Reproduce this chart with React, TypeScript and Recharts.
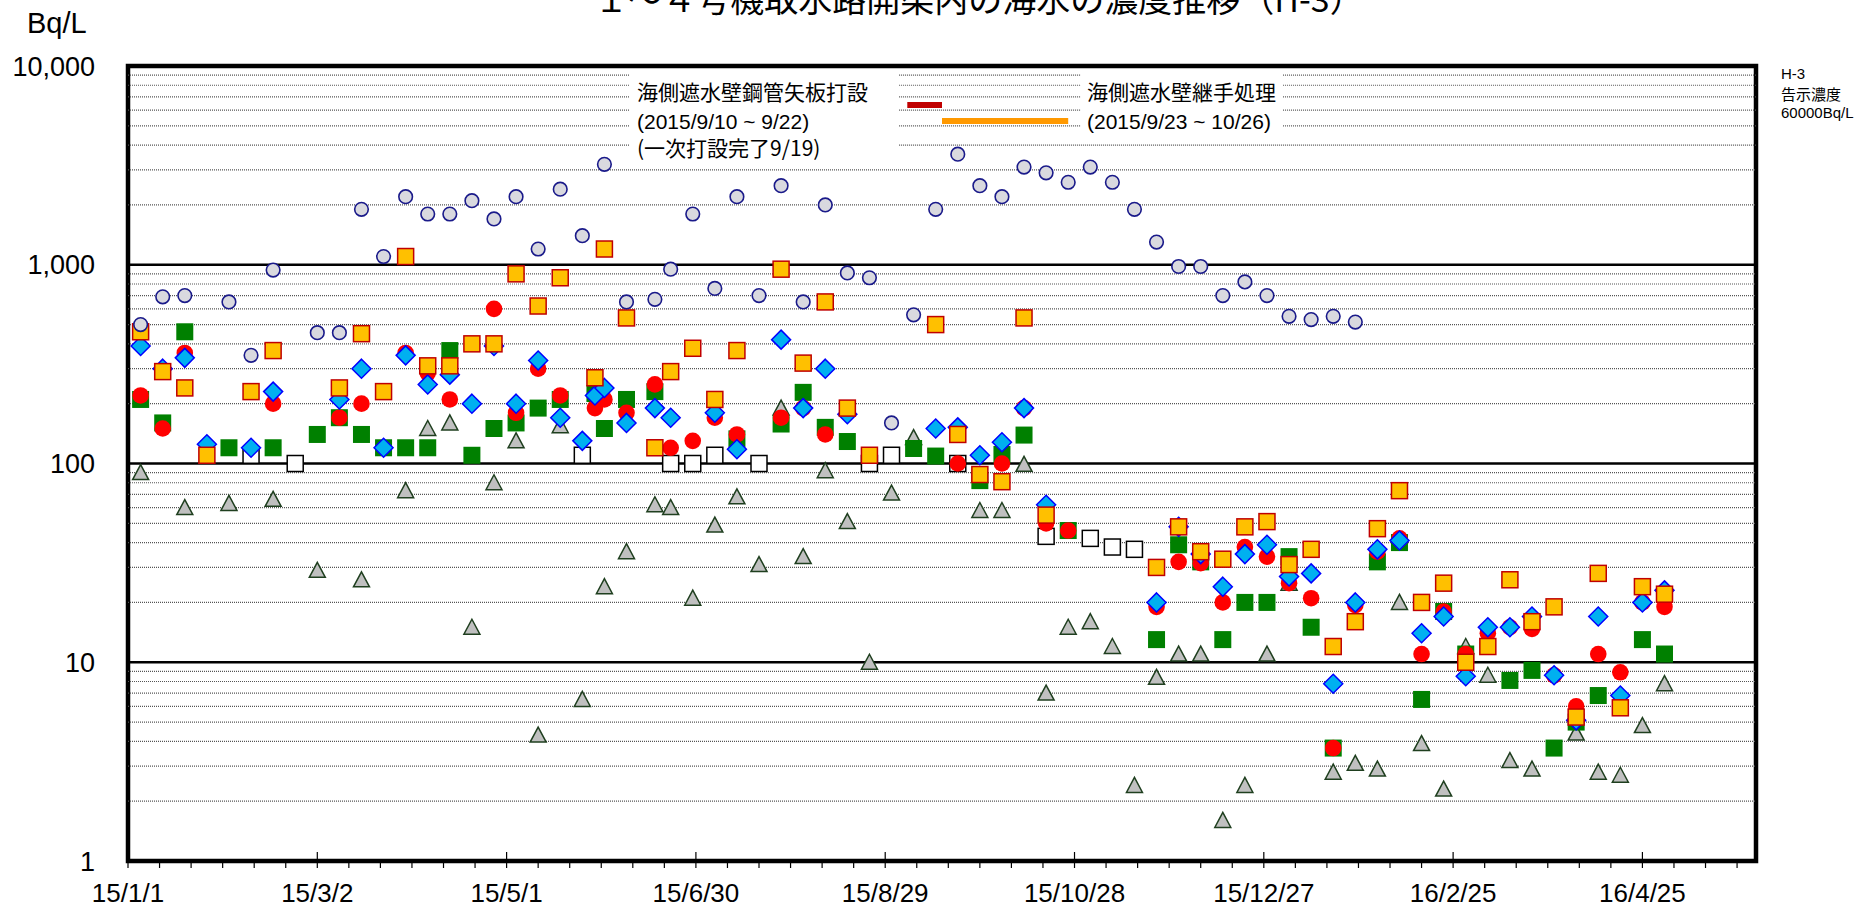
import React from 'react';
import {
  ScatterChart,
  Scatter,
  XAxis,
  YAxis,
  ReferenceLine,
  ReferenceArea,
  Customized,
} from 'recharts';

type Pt = [string, number];

const TITLE = '１～４号機取水路開渠内の海水の濃度推移（H-3）';
const X_LABELS = ['15/1/1', '15/3/2', '15/5/1', '15/6/30', '15/8/29', '15/10/28', '15/12/27', '16/2/25', '16/4/25'];
const X_START = '15/1/1';
const X_END = '16/5/31';
const Y_TICKS = [1, 10, 100, 1000, 10000];
const Y_MINOR_STEPS = [2, 3, 4, 5, 6, 7, 8, 9];

// gray circle with navy outline
const circleGray: Pt[] = [
  ['15/1/5', 500], ['15/1/12', 690], ['15/1/19', 700], ['15/2/2', 650], ['15/2/9', 350], ['15/2/16', 940],
  ['15/3/2', 455], ['15/3/9', 455], ['15/3/16', 1900], ['15/3/23', 1100], ['15/3/30', 2200], ['15/4/6', 1800],
  ['15/4/13', 1800], ['15/4/20', 2100], ['15/4/27', 1700], ['15/5/4', 2200], ['15/5/11', 1200], ['15/5/18', 2400],
  ['15/5/25', 1400], ['15/6/1', 3200], ['15/6/8', 650], ['15/6/17', 670], ['15/6/22', 950], ['15/6/29', 1800],
  ['15/7/6', 760], ['15/7/13', 2200], ['15/7/20', 700], ['15/7/27', 2500], ['15/8/3', 650], ['15/8/10', 2000],
  ['15/8/17', 910], ['15/8/24', 860], ['15/8/31', 160], ['15/9/7', 560], ['15/9/14', 1900], ['15/9/21', 3600],
  ['15/9/28', 2500], ['15/10/5', 2200], ['15/10/12', 3100], ['15/10/19', 2900], ['15/10/26', 2600], ['15/11/2', 3100],
  ['15/11/9', 2600], ['15/11/16', 1900], ['15/11/23', 1300], ['15/11/30', 980], ['15/12/7', 980], ['15/12/14', 700],
  ['15/12/21', 820], ['15/12/28', 700], ['16/1/4', 550], ['16/1/11', 530], ['16/1/18', 550], ['16/1/25', 515],
];

// red circle
const circleRed: Pt[] = [
  ['15/1/5', 220], ['15/1/12', 150], ['15/1/19', 360], ['15/2/16', 200], ['15/3/9', 170], ['15/3/16', 200],
  ['15/3/30', 360], ['15/4/6', 285], ['15/4/13', 210], ['15/4/27', 600], ['15/5/4', 180], ['15/5/11', 300],
  ['15/5/18', 220], ['15/5/29', 190], ['15/6/1', 210], ['15/6/8', 180], ['15/6/17', 250], ['15/6/22', 120],
  ['15/6/29', 130], ['15/7/6', 170], ['15/7/13', 140], ['15/7/27', 170], ['15/8/3', 190], ['15/8/10', 140],
  ['15/9/21', 100], ['15/10/5', 100], ['15/10/12', 190], ['15/10/19', 50], ['15/10/26', 46], ['15/11/23', 19],
  ['15/11/30', 32], ['15/12/7', 31.5], ['15/12/14', 20], ['15/12/21', 38], ['15/12/28', 34], ['16/1/4', 25],
  ['16/1/11', 21], ['16/1/18', 3.7], ['16/1/25', 19.4], ['16/2/1', 36], ['16/2/8', 42], ['16/2/15', 11],
  ['16/2/22', 18], ['16/2/29', 11], ['16/3/7', 14], ['16/3/14', 15], ['16/3/21', 14.7], ['16/3/28', 8.6],
  ['16/4/4', 6], ['16/4/11', 11], ['16/4/18', 8.9], ['16/4/25', 20], ['16/5/2', 19],
];

// blue diamond
const diamondBlue: Pt[] = [
  ['15/1/5', 390], ['15/1/12', 300], ['15/1/19', 340], ['15/1/26', 125], ['15/2/9', 120], ['15/2/16', 230],
  ['15/3/9', 210], ['15/3/16', 300], ['15/3/23', 120], ['15/3/30', 350], ['15/4/6', 250], ['15/4/13', 280],
  ['15/4/20', 200], ['15/4/27', 390], ['15/5/4', 200], ['15/5/11', 330], ['15/5/18', 170], ['15/5/25', 130],
  ['15/5/29', 220], ['15/6/1', 240], ['15/6/8', 160], ['15/6/17', 190], ['15/6/22', 170], ['15/7/6', 180],
  ['15/7/13', 118], ['15/7/27', 420], ['15/8/3', 190], ['15/8/10', 300], ['15/8/17', 177], ['15/9/14', 150],
  ['15/9/21', 152], ['15/9/28', 110], ['15/10/5', 128], ['15/10/12', 190], ['15/10/19', 62], ['15/11/23', 20],
  ['15/11/30', 48], ['15/12/7', 35], ['15/12/14', 24], ['15/12/21', 35], ['15/12/28', 39], ['16/1/4', 27],
  ['16/1/11', 28], ['16/1/18', 7.8], ['16/1/25', 20], ['16/2/1', 37], ['16/2/8', 41], ['16/2/15', 14],
  ['16/2/22', 17], ['16/2/29', 8.5], ['16/3/7', 15], ['16/3/14', 15], ['16/3/21', 17], ['16/3/28', 8.6],
  ['16/4/4', 5.1], ['16/4/11', 17], ['16/4/18', 6.8], ['16/4/25', 20], ['16/5/2', 23],
];

// orange square, red outline
const squareOrange: Pt[] = [
  ['15/1/5', 460], ['15/1/12', 290], ['15/1/19', 240], ['15/1/26', 110], ['15/2/9', 230], ['15/2/16', 370],
  ['15/3/9', 240], ['15/3/16', 450], ['15/3/23', 230], ['15/3/30', 1100], ['15/4/6', 310], ['15/4/13', 310],
  ['15/4/20', 400], ['15/4/27', 400], ['15/5/4', 900], ['15/5/11', 620], ['15/5/18', 860], ['15/5/29', 270],
  ['15/6/1', 1200], ['15/6/8', 540], ['15/6/17', 120], ['15/6/22', 290], ['15/6/29', 380], ['15/7/6', 210],
  ['15/7/13', 370], ['15/7/27', 950], ['15/8/3', 320], ['15/8/10', 650], ['15/8/17', 190], ['15/8/24', 110],
  ['15/9/14', 500], ['15/9/21', 140], ['15/9/28', 88], ['15/10/5', 81], ['15/10/12', 540], ['15/10/19', 55],
  ['15/11/23', 30], ['15/11/30', 48], ['15/12/7', 36], ['15/12/14', 33], ['15/12/21', 48], ['15/12/28', 51],
  ['16/1/4', 31], ['16/1/11', 37], ['16/1/18', 12], ['16/1/25', 16], ['16/2/1', 47], ['16/2/8', 73],
  ['16/2/15', 20], ['16/2/22', 25], ['16/2/29', 10], ['16/3/7', 12], ['16/3/14', 26], ['16/3/21', 16],
  ['16/3/28', 19], ['16/4/4', 5.3], ['16/4/11', 28], ['16/4/18', 5.9], ['16/4/25', 24], ['16/5/2', 22],
];

// green square
const squareGreen: Pt[] = [
  ['15/1/5', 210], ['15/1/12', 160], ['15/1/19', 460], ['15/2/2', 120], ['15/2/16', 120], ['15/3/2', 140],
  ['15/3/9', 170], ['15/3/16', 140], ['15/3/23', 120], ['15/3/30', 120], ['15/4/6', 120], ['15/4/13', 370],
  ['15/4/20', 110], ['15/4/27', 150], ['15/5/4', 160], ['15/5/11', 190], ['15/5/18', 210], ['15/5/29', 225],
  ['15/6/1', 150], ['15/6/8', 210], ['15/6/17', 230], ['15/7/13', 133], ['15/7/27', 158], ['15/8/3', 228],
  ['15/8/10', 152], ['15/8/17', 129], ['15/9/7', 119], ['15/9/14', 109], ['15/9/28', 82], ['15/10/5', 111],
  ['15/10/12', 139], ['15/10/26', 46], ['15/11/23', 13], ['15/11/30', 39], ['15/12/7', 32], ['15/12/14', 13],
  ['15/12/21', 20], ['15/12/28', 20], ['16/1/4', 34], ['16/1/11', 15], ['16/1/18', 3.7], ['16/2/1', 32],
  ['16/2/8', 40], ['16/2/15', 6.5], ['16/2/22', 18], ['16/2/29', 11], ['16/3/14', 8.1], ['16/3/21', 9.1],
  ['16/3/28', 3.7], ['16/4/4', 5], ['16/4/11', 6.8], ['16/4/25', 13], ['16/5/2', 11],
];

// white square, black outline
const squareWhite: Pt[] = [
  ['15/2/9', 110], ['15/2/23', 100], ['15/5/25', 110], ['15/6/22', 100], ['15/6/29', 100], ['15/7/6', 110],
  ['15/7/20', 100], ['15/8/24', 100], ['15/8/31', 110], ['15/9/21', 100], ['15/10/19', 43], ['15/11/2', 42],
  ['15/11/9', 38], ['15/11/16', 37],
];

// gray triangle
const triangleGray: Pt[] = [
  ['15/1/5', 90], ['15/1/19', 60], ['15/2/2', 63], ['15/2/16', 66], ['15/3/2', 29], ['15/3/16', 26],
  ['15/3/30', 73], ['15/4/6', 150], ['15/4/13', 160], ['15/4/20', 15], ['15/4/27', 80], ['15/5/4', 130],
  ['15/5/11', 4.3], ['15/5/18', 155], ['15/5/25', 6.5], ['15/6/1', 24], ['15/6/8', 36], ['15/6/17', 62],
  ['15/6/22', 60], ['15/6/29', 21], ['15/7/6', 49], ['15/7/13', 68], ['15/7/20', 31], ['15/7/27', 190],
  ['15/8/3', 34], ['15/8/10', 92], ['15/8/17', 51], ['15/8/24', 10], ['15/8/31', 71], ['15/9/7', 135],
  ['15/9/28', 58], ['15/10/5', 58], ['15/10/12', 99], ['15/10/19', 7], ['15/10/26', 15], ['15/11/2', 16],
  ['15/11/9', 12], ['15/11/16', 2.4], ['15/11/23', 8.4], ['15/11/30', 11], ['15/12/7', 11], ['15/12/14', 1.6],
  ['15/12/21', 2.4], ['15/12/28', 11], ['16/1/4', 25], ['16/1/18', 2.8], ['16/1/25', 3.1], ['16/2/1', 2.9],
  ['16/2/8', 20], ['16/2/15', 3.9], ['16/2/22', 2.3], ['16/2/29', 12], ['16/3/7', 8.6], ['16/3/14', 3.2],
  ['16/3/21', 2.9], ['16/4/4', 4.4], ['16/4/11', 2.8], ['16/4/18', 2.7], ['16/4/25', 4.8], ['16/5/2', 7.8],
];

// construction periods drawn as bars in the top band
const RED_BAR = { from: '15/9/5', to: '15/9/16', level: 6370 };
const ORANGE_BAR = { from: '15/9/16', to: '15/10/26', level: 5290 };

const SANS = "'Liberation Sans', Arial, sans-serif";
const CJK = "'Noto Sans CJK JP', 'Noto Sans CJK SC', sans-serif";

const BASE = Date.UTC(2015, 0, 1);
function dayOf(s: string) {
  const [y, m, d] = s.split('/').map(Number);
  return Math.round((Date.UTC(2000 + y, m - 1, d) - BASE) / 864e5);
}
const toData = (pts: Pt[]) => pts.map(([d, v]) => ({ x: dayOf(d), y: v }));

const X_MIN = dayOf(X_START);
const X_MAX = dayOf(X_END);
const MAJOR_DAYS = X_LABELS.map(dayOf);
const X_TICKS: number[] = [];
for (let d = X_MIN; d <= X_MAX; d += 10) X_TICKS.push(d);

// gaps in the dotted grid behind the two annotation blocks (x in days, above a value)
const NOTE_GAPS = [
  { x1: 158.8, x2: 244.4, above: 3500 },
  { x1: 301.8, x2: 366.1, above: 4500 },
];

const minorValues = Y_TICKS.slice(0, -1).flatMap((d) => Y_MINOR_STEPS.map((s) => s * d));

function segmentsFor(v: number): [number, number][] {
  let segs: [number, number][] = [[X_MIN, X_MAX]];
  NOTE_GAPS.filter((g) => v >= g.above).forEach((g) => {
    segs = segs.flatMap(([a, b]) => {
      const out: [number, number][] = [];
      if (g.x1 > a) out.push([a, Math.min(b, g.x1)]);
      if (g.x2 < b) out.push([Math.max(a, g.x2), b]);
      return out;
    });
  });
  return segs;
}

function XTick(props: any) {
  const { x, y, payload } = props;
  const idx = MAJOR_DAYS.indexOf(payload.value);
  return (
    <g>
      <line x1={x} x2={x} y1={idx >= 0 ? y - 9 : y} y2={y + 7} stroke="#000" strokeWidth={1.2} />
      {idx >= 0 && (
        <text x={x} y={y + 41} textAnchor="middle" fontSize={26} fontFamily={SANS} fill="#000">
          {X_LABELS[idx]}
        </text>
      )}
    </g>
  );
}

function makeShape(kind: string) {
  return (p: any) => {
    const { cx, cy } = p;
    if (cx == null || cy == null) return <g />;
    switch (kind) {
      case 'circleGray':
        return <circle cx={cx} cy={cy} r={6.8} fill="#d9d9df" stroke="#1a1a8a" strokeWidth={1.6} />;
      case 'circleRed':
        return <circle cx={cx} cy={cy} r={8.3} fill="#ff0000" />;
      case 'diamondBlue':
        return (
          <polygon
            points={`${cx},${cy - 9.5} ${cx + 9.5},${cy} ${cx},${cy + 9.5} ${cx - 9.5},${cy}`}
            fill="#00b0f0"
            stroke="#0000ff"
            strokeWidth={1.5}
          />
        );
      case 'squareOrange':
        return <rect x={cx - 8} y={cy - 8} width={16} height={16} fill="#ffc000" stroke="#c00000" strokeWidth={1.5} />;
      case 'squareGreen':
        return <rect x={cx - 8.5} y={cy - 8.5} width={17} height={17} fill="#008000" />;
      case 'squareWhite':
        return <rect x={cx - 8} y={cy - 8} width={16} height={16} fill="#fff" stroke="#000" strokeWidth={1.5} />;
      default:
        return (
          <polygon
            points={`${cx},${cy - 8} ${cx + 8},${cy + 7} ${cx - 8},${cy + 7}`}
            fill="#c0c0c0"
            stroke="#1f3f1f"
            strokeWidth={1.5}
          />
        );
    }
  };
}

function Texts() {
  return (
    <g fill="#000">
      <text x={979} y={12} textAnchor="middle" fontSize={34} fontFamily={CJK}>
        {TITLE}
      </text>
      <text x={27} y={33} fontSize={29} fontFamily={SANS}>Bq/L</text>
      <g fontSize={21}>
        <text x={637} y={100} fontFamily={CJK}>海側遮水壁鋼管矢板打設</text>
        <text x={637} y={129} fontFamily={SANS}>(2015/9/10 ~ 9/22)</text>
        <text x={637} y={156} fontFamily={CJK}>(一次打設完了9/19)</text>
        <text x={1087} y={100} fontFamily={CJK}>海側遮水壁継手処理</text>
        <text x={1087} y={129} fontFamily={SANS}>(2015/9/23 ~ 10/26)</text>
      </g>
      <g fontSize={15}>
        <text x={1781} y={79} fontFamily={SANS}>H-3</text>
        <text x={1781} y={100} fontFamily={CJK}>告示濃度</text>
        <text x={1781} y={118} fontFamily={SANS}>60000Bq/L</text>
      </g>
    </g>
  );
}

const SERIES: [string, Pt[]][] = [
  ['triangleGray', triangleGray],
  ['squareWhite', squareWhite],
  ['squareGreen', squareGreen],
  ['circleRed', circleRed],
  ['diamondBlue', diamondBlue],
  ['squareOrange', squareOrange],
  ['circleGray', circleGray],
];

export default function App() {
  return (
    <div style={{ position: 'absolute', top: 0, left: 0, background: '#fff' }}>
      <ScatterChart width={1869} height={909} margin={{ top: 66, right: 113, bottom: 0, left: 0 }}>
        <XAxis
          type="number"
          dataKey="x"
          domain={[X_MIN, X_MAX]}
          ticks={X_TICKS}
          interval={0}
          height={48}
          axisLine={false}
          tickLine={false}
          tickSize={0}
          tickMargin={0}
          tick={<XTick />}
          allowDataOverflow
        />
        <YAxis
          type="number"
          dataKey="y"
          scale="log"
          domain={[1, 10000]}
          ticks={Y_TICKS}
          interval={0}
          width={128}
          axisLine={false}
          tickLine={false}
          tickSize={0}
          tickMargin={33}
          tick={{ fontSize: 27, fill: '#000', fontFamily: SANS }}
          tickFormatter={(v: number) => v.toLocaleString('en-US')}
          allowDataOverflow
        />
        {minorValues.flatMap((v) =>
          segmentsFor(v).map(([a, b], i) => (
            <ReferenceLine
              key={`m${v}-${i}`}
              segment={[{ x: a, y: v }, { x: b, y: v }]}
              stroke="#555"
              strokeWidth={1.2}
              strokeDasharray="1 1"
            />
          ))
        )}
        {[10, 100, 1000].map((v) => (
          <ReferenceLine key={`M${v}`} y={v} stroke="#000" strokeWidth={2.6} />
        ))}
        <ReferenceLine
          segment={[{ x: dayOf(RED_BAR.from), y: RED_BAR.level }, { x: dayOf(RED_BAR.to), y: RED_BAR.level }]}
          stroke="#c00000"
          strokeWidth={6}
        />
        <ReferenceLine
          segment={[{ x: dayOf(ORANGE_BAR.from), y: ORANGE_BAR.level }, { x: dayOf(ORANGE_BAR.to), y: ORANGE_BAR.level }]}
          stroke="#ff9900"
          strokeWidth={6}
        />
        <ReferenceArea x1={X_MIN} x2={X_MAX} y1={1} y2={10000} fill="none" stroke="#000" strokeWidth={4.5} />
        {SERIES.map(([kind, pts]) => (
          <Scatter key={kind} name={kind} data={toData(pts)} shape={makeShape(kind)} isAnimationActive={false} />
        ))}
        <Customized component={Texts} />
      </ScatterChart>
    </div>
  );
}
